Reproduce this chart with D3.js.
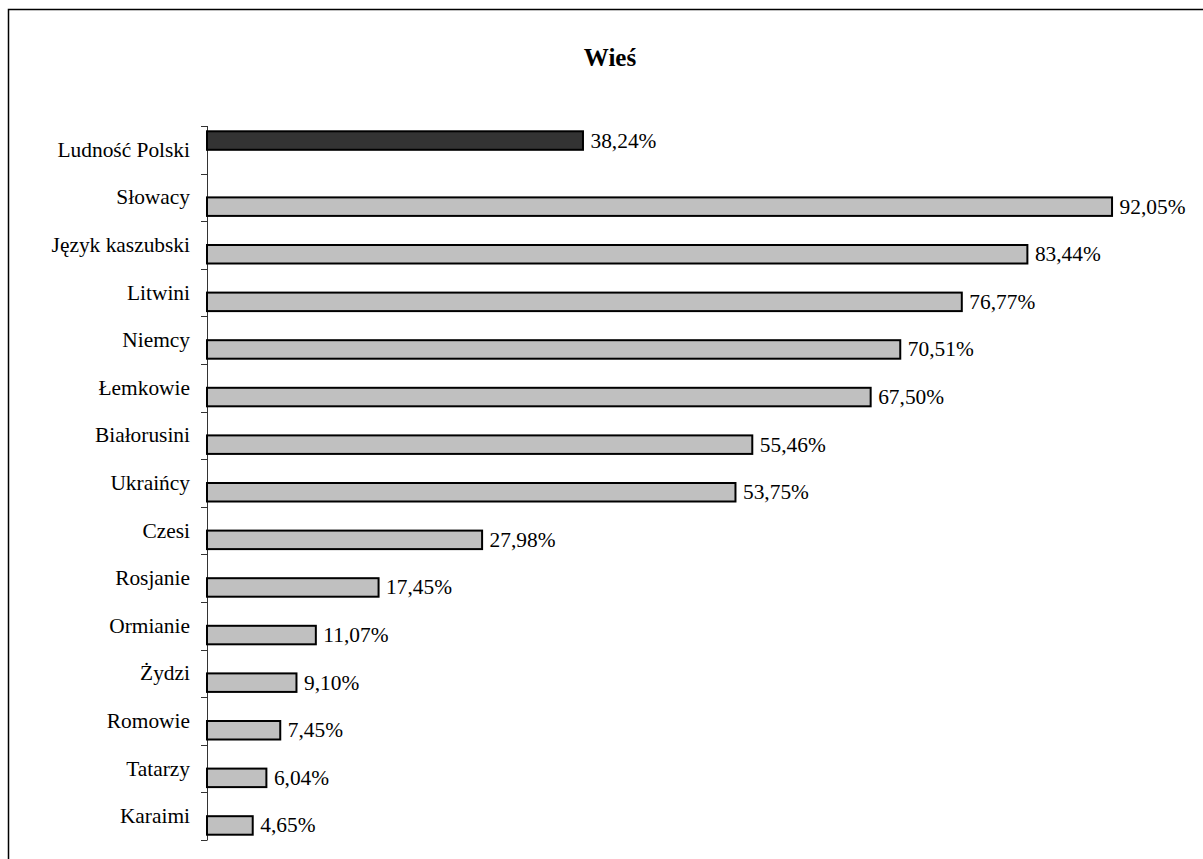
<!DOCTYPE html>
<html>
<head>
<meta charset="utf-8">
<script src="https://cdn.jsdelivr.net/npm/d3@7"></script>
<style>
  html, body { margin: 0; padding: 0; background: #fff; }
  svg { display: block; }
  text { font-family: "Liberation Serif", "Times New Roman", serif; fill: #000; }
</style>
</head>
<body>
<svg id="chart" width="1203" height="859"></svg>
<script>
const title = "Wieś";
const categories = ["Ludność Polski", "Słowacy", "Język kaszubski", "Litwini", "Niemcy", "Łemkowie",
  "Białorusini", "Ukraińcy", "Czesi", "Rosjanie", "Ormianie", "Żydzi", "Romowie", "Tatarzy", "Karaimi"];
const seriesNames = ["Ludność Polski", "Mniejszości"];
const seriesPolska = [38.24, null, null, null, null, null, null, null, null, null, null, null, null, null, null];
const seriesGroups = [null, 92.05, 83.44, 76.77, 70.51, 67.50, 55.46, 53.75, 27.98, 17.45, 11.07, 9.10, 7.45, 6.04, 4.65];
const seriesColors = ["#333333", "#c0c0c0"];
const xDomain = [0, 100];

const svg = d3.select("#chart");
const W = 1203, H = 859;

// outer frame (extends past the right/bottom edges as in the reference)
svg.append("rect")
  .attr("x", 8.5).attr("y", 9.5)
  .attr("width", W + 20).attr("height", H + 20)
  .attr("fill", "none").attr("stroke", "#000").attr("stroke-width", 1.5);

svg.append("text")
  .attr("x", 610).attr("y", 66)
  .attr("text-anchor", "middle")
  .attr("font-weight", "bold")
  .attr("font-size", 25)
  .text(title);

const plotLeft = 207, plotTop = 126, plotBottom = 840;
const x = d3.scaleLinear().domain(xDomain).range([plotLeft, 1190.2]);
const y0 = d3.scaleBand().domain(categories).range([plotTop, plotBottom]).paddingInner(0).paddingOuter(0);
const y1 = d3.scaleBand().domain(seriesNames).range([0, y0.bandwidth()]).paddingInner(0).paddingOuter(0.286);

const rows = [];
categories.forEach((c, i) => {
  [seriesPolska, seriesGroups].forEach((arr, s) => {
    if (arr[i] != null) rows.push({ cat: c, series: seriesNames[s], value: arr[i], color: seriesColors[s] });
  });
});

// y axis with ticks at band boundaries
const axisG = svg.append("g");
axisG.append("line")
  .attr("x1", plotLeft + 0.5).attr("x2", plotLeft + 0.5)
  .attr("y1", plotTop).attr("y2", plotBottom)
  .attr("stroke", "#333").attr("stroke-width", 1);
const boundaries = categories.map(c => y0(c)).concat([plotBottom]);
axisG.selectAll("line.tick").data(boundaries).enter().append("line")
  .attr("class", "tick")
  .attr("x1", plotLeft - 6).attr("x2", plotLeft + 0.5)
  .attr("y1", d => Math.round(d) + 0.5).attr("y2", d => Math.round(d) + 0.5)
  .attr("stroke", "#333").attr("stroke-width", 1);

axisG.selectAll("text.cat").data(categories).enter().append("text")
  .attr("class", "cat")
  .attr("x", 190)
  .attr("y", d => y0(d) + y0.bandwidth() / 2 + 7)
  .attr("text-anchor", "end")
  .attr("font-size", 21.4)
  .text(d => d);

// bars
svg.selectAll("rect.bar").data(rows).enter().append("rect")
  .attr("class", "bar")
  .attr("x", x(0))
  .attr("y", d => y0(d.cat) + y1(d.series))
  .attr("width", d => x(d.value) - x(0))
  .attr("height", y1.bandwidth())
  .attr("fill", d => d.color)
  .attr("stroke", "#000")
  .attr("stroke-width", 2);

const fmt = v => d3.format(".2f")(v).replace(".", ",") + "%";
svg.selectAll("text.val").data(rows).enter().append("text")
  .attr("class", "val")
  .attr("x", d => x(d.value) + 7.5)
  .attr("y", d => y0(d.cat) + y1(d.series) + y1.bandwidth() / 2 + 7)
  .attr("font-size", 21.4)
  .text(d => fmt(d.value));
</script>
</body>
</html>
